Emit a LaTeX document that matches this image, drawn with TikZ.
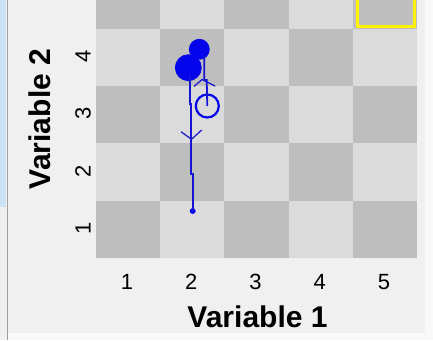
\documentclass[tikz,border=0pt]{standalone}
\usepackage{fontspec}
\setmainfont{Liberation Sans}
\definecolor{bgc}{RGB}{240,240,240}
\definecolor{darkc}{RGB}{190,190,190}
\definecolor{lightc}{RGB}{219,219,219}
\definecolor{pathc}{RGB}{20,20,210}
\definecolor{fillc}{RGB}{5,5,235}
\definecolor{winblue}{RGB}{205,225,245}
\definecolor{framec}{RGB}{160,160,160}
\tikzset{
  cellbox/.style={draw=none,minimum width=64.2pt,minimum height=57.3pt,inner sep=0pt},
  filledpt/.style={circle,fill=fillc,draw=fillc,line width=0.8pt,inner sep=0pt},
  openpt/.style={circle,draw=fillc,line width=2.2pt,inner sep=0pt,minimum size=23pt},
  trail/.style={color=pathc,line width=1.8pt},
  vmark/.style={color=pathc,line width=1.2pt},
  ticklab/.style={font=\fontsize{22}{22}\selectfont,inner sep=0pt},
  axlab/.style={font=\fontsize{30}{30}\selectfont\bfseries,inner sep=0pt}
}
\begin{document}
\begin{tikzpicture}[x=1pt,y=-1pt]
\useasboundingbox (0,0) rectangle (433,340);
% window background
\fill[bgc] (0,0) rectangle (433,340);
\fill[winblue] (0,0) rectangle (6,207);
\fill[white!60!bgc] (425,0) rectangle (433,340);
\fill[white!60!bgc] (8,333) rectangle (433,340);
\draw[framec,line width=1.2pt] (7.5,0) -- (7.5,340);
% checkerboard
\foreach \i in {1,...,5}{
  \foreach \j in {1,...,5}{
    \pgfmathtruncatemacro{\parity}{mod(\i+\j,2)}
    \pgfmathsetmacro{\cx}{96+64.2*(\i-0.5)}
    \pgfmathsetmacro{\cy}{258-57.3*(\j-0.5)}
    \ifnum\parity=0
      \node[cellbox,fill=darkc] (cell\i\j) at (\cx,\cy) {};
    \else
      \node[cellbox,fill=lightc] (cell\i\j) at (\cx,\cy) {};
    \fi
  }
}
% yellow highlight
\draw[yellow,line width=3pt] (357.5,-5) rectangle (414.5,26.5);
% tick labels
\foreach \i in {1,...,5}{
  \node[ticklab] (xt\i) at ({96+64.2*(\i-0.5)-1},282) {\i};
}
\foreach \j in {1,...,4}{
  \node[ticklab,rotate=90] (yt\j) at (83,{258-57.3*(\j-0.5)-1}) {\j};
}
\node[axlab] (xlab) at (257.5,317) {Variable 1};
\node[axlab,rotate=90] (ylab) at (40,119) {Variable 2};
% trajectory nodes
\node[filledpt,minimum size=5pt] (s) at (192.7,211) {};
\node[filledpt,minimum size=26pt] (c1) at (188.3,67.7) {};
\node[filledpt,minimum size=20pt] (c2) at (199.3,49.3) {};
\node[openpt] (c3) at (207.3,106) {};
% connectors
\coordinate (b1) at (192.7,174);
\coordinate (b2) at (191.3,174);
\coordinate (b3) at (191.3,104);
\coordinate (b4) at (189.7,104);
\draw[trail] (s.center) -- (b1) -- (b2) -- (b3) -- (b4) -- (189.7,75);
\coordinate (a1) at (181,131.7);
\coordinate (a2) at (191.5,139.3);
\coordinate (a3) at (201.7,130);
\draw[vmark] (a1) -- (a2) -- (a3);
\coordinate (d1) at (204.3,80);
\coordinate (d2) at (206.7,80);
\draw[trail] (204.3,56) -- (d1) -- (d2) -- (c3.center);
\coordinate (e1) at (194,86.5);
\coordinate (e2) at (202,79.5);
\coordinate (e3) at (215,86);
\draw[vmark] (e1) -- (e2) -- (e3);
\end{tikzpicture}
\end{document}
